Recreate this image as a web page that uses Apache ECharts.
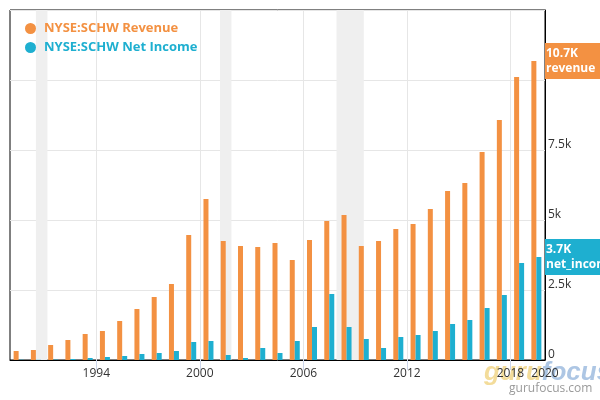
<!DOCTYPE html>
<html><head><meta charset="utf-8">
<script src="https://cdn.jsdelivr.net/npm/echarts@6/dist/echarts.min.js"></script>
<style>html,body{margin:0;padding:0;background:#fff}#c{width:600px;height:400px}</style>
</head><body><div id="c"></div>
<script>
const years = [1989,1990,1991,1992,1993,1994,1995,1996,1997,1998,1999,2000,2001,2002,2003,2004,2005,2006,2007,2008,2009,2010,2011,2012,2013,2014,2015,2016,2017,2018,2019];
const revenue = [321,357,536,714,929,1036,1393,1821,2250,2714,4464,5750,4250,4071,4036,4179,3571,4286,4964,5179,4071,4250,4679,4857,5393,6036,6321,7429,8571,10107,10679];
const netIncome = [12,8,16,36,71,107,143,214,250,321,643,679,179,71,429,250,679,1179,2357,1179,750,429,821,893,1036,1286,1429,1857,2321,3464,3679];
const xLabelYears = [1994,2000,2006,2012,2018,2020];
const xTickYears = [1994,2000,2006,2012,2018];
// recession periods, as fractional years (Jul 1990–Mar 1991, Mar–Nov 2001, Dec 2007–Jun 2009)
const recessionStart = [1990.5,2001.17,2007.92];
const recessionEnd = [1991.17,2001.83,2009.5];
const seriesNames = ['NYSE:SCHW Revenue','NYSE:SCHW Net Income'];
const endLabelNames = ['revenue','net_income'];
const seriesColors = ['#f39142','#1eafd0'];

const FONT = 'Open Sans';
const chart = echarts.init(document.getElementById('c'));
function pts(vals){ return years.map((y,i)=>[y+0.5, vals[i]]); }
function endMark(vals, idx){
  const v = vals[vals.length-1];
  return {
    silent:true, symbol:'none', animation:false, z:10,
    lineStyle:{color:'rgba(0,0,0,0)', width:0, opacity:1},
    label:{show:true, position:'end', distance:0, opacity:1,
      formatter:(v/1000).toFixed(1)+'K\n'+endLabelNames[idx],
      color:'#fff', fontWeight:'bold', fontSize:12, fontFamily:FONT, lineHeight:15,
      backgroundColor:seriesColors[idx], padding:[3,5,3,1], align:'left', verticalAlign:'middle'},
    data:[{yAxis:v}]
  };
}
chart.setOption({
  animation:false,
  grid:{left:10,right:55,top:10,bottom:40,show:true,borderColor:'#000',borderWidth:1},
  legend:{orient:'vertical',left:25,top:22,padding:0,itemWidth:11,itemHeight:11,itemGap:6,icon:'circle',
    data:seriesNames.map((n,i)=>({name:n,textStyle:{color:seriesColors[i]}})),
    textStyle:{fontFamily:FONT,fontWeight:'bold',fontSize:13,padding:[0,0,0,3]}},
  xAxis:{type:'value',min:1989,max:2020,
    axisLine:{show:true,lineStyle:{color:'#000'}},
    axisTick:{show:true,length:10,lineStyle:{color:'#ccd6eb'},customValues:xTickYears},
    axisLabel:{customValues:xLabelYears,formatter:v=>String(v),
      color:'#333',fontSize:12,fontFamily:FONT,margin:8},
    splitLine:{show:true,lineStyle:{color:'#e6e6e6'}}},
  yAxis:{type:'value',position:'right',min:0,max:12500,interval:2500,
    axisLine:{show:true,lineStyle:{color:'#000'}},axisTick:{show:false},
    splitLine:{lineStyle:{color:'#e6e6e6'}},
    axisLabel:{color:'#333',fontSize:12,fontFamily:FONT,margin:3,verticalAlign:'bottom',lineHeight:10,
      showMaxLabel:false,formatter:v=>v===0?'0':(v/1000)+'k'}},
  series:[
    {name:seriesNames[0],type:'bar',clip:false,barWidth:5,barGap:'0%',itemStyle:{color:seriesColors[0]},
      data:pts(revenue),markLine:endMark(revenue,0),
      markArea:{silent:true,itemStyle:{color:'#efefef'},
        data:recessionStart.map((s,i)=>[{xAxis:s},{xAxis:recessionEnd[i]}])}},
    {name:seriesNames[1],type:'bar',clip:false,barWidth:5,barGap:'0%',itemStyle:{color:seriesColors[1]},
      data:pts(netIncome),markLine:endMark(netIncome,1)}
  ],
  graphic:[
    {type:'text',left:484,top:360,z:-10,silent:true,style:{text:'{a|guru}{b|focus}',
      rich:{a:{fill:'#f3dc9a',fontSize:26,fontWeight:'bold',fontStyle:'italic',fontFamily:'Liberation Sans'},
            b:{fill:'#adc6e4',fontSize:26,fontWeight:'bold',fontStyle:'italic',fontFamily:'Liberation Sans'}}}},
    {type:'text',left:509,top:383,z:-10,silent:true,style:{text:'gurufocus.com',fill:'#9a9a9a',fontSize:12,fontFamily:FONT}}
  ]
});
</script></body></html>
